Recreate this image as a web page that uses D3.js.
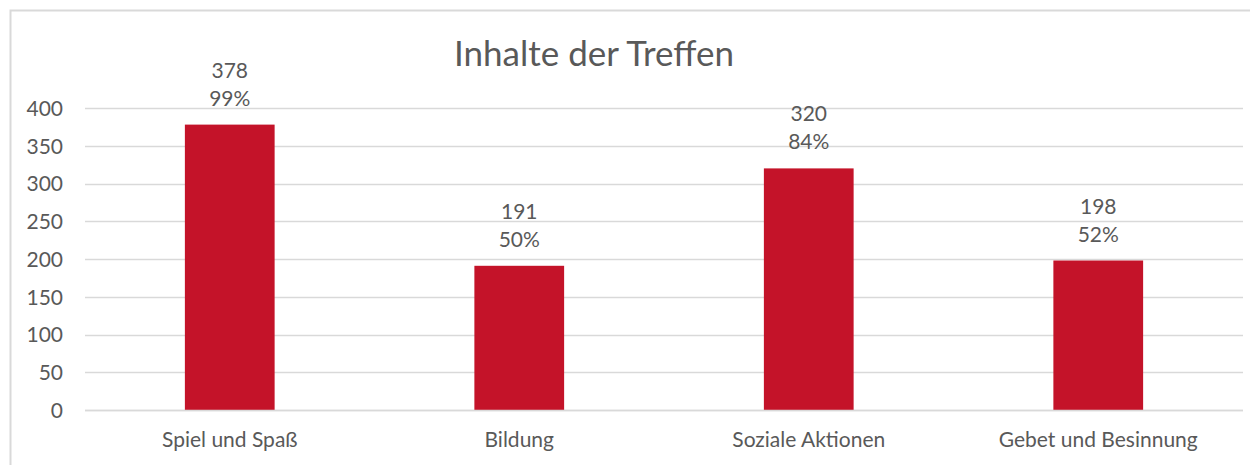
<!DOCTYPE html>
<html>
<head>
<meta charset="utf-8">
<script src="https://cdnjs.cloudflare.com/ajax/libs/d3/7.8.5/d3.min.js"></script>
<style>
	body { margin: 0; background: #fff; }
	svg text { font-family: Lato, "Open Sans", sans-serif; fill: #595959; }
</style>
</head>
<body>
<div id="chart"></div>
<script>

var categories = ["Spiel und Spaß", "Bildung", "Soziale Aktionen", "Gebet und Besinnung"];
var counts     = [378, 191, 320, 198];
var percents   = ["99%", "50%", "84%", "52%"];
var yTicks     = [0, 50, 100, 150, 200, 250, 300, 350, 400];

var width  = 1250,
	height = 465;

var margin = { left: 85, right: 7, top: 108, bottom: 55 };

var fontSize = "21px";

var svg = d3.select("#chart")
	.append("svg")
	.attr("width", width)
	.attr("height", height);

// outer frame (top + left only visible)
svg.append("path")
	.attr("d", "M10.5," + height + "V10.5H" + width)
	.attr("fill", "none")
	.attr("stroke", "#d9d9d9")
	.attr("stroke-width", 2);

var x = d3.scaleBand()
	.domain(categories)
	.range([margin.left, width - margin.right])
	.paddingInner(0.69)
	.paddingOuter(0.345);

var y = d3.scaleLinear()
	.domain([0, 400])
	.range([height - margin.bottom, margin.top]);

// gridlines
svg.append("g")
	.selectAll("line")
	.data(yTicks)
	.enter()
	.append("line")
	.attr("x1", margin.left)
	.attr("x2", width - margin.right)
	.attr("y1", function(d) { return Math.round(y(d)) + 0.5; })
	.attr("y2", function(d) { return Math.round(y(d)) + 0.5; })
	.attr("stroke", "#d9d9d9")
	.attr("stroke-width", 1.5);

// y axis labels
var yAxis = d3.axisLeft(y)
	.tickValues(yTicks)
	.tickSize(0)
	.tickPadding(0);

svg.append("g")
	.attr("transform", "translate(63,0)")
	.call(yAxis)
	.call(function(g) { g.select(".domain").remove(); })
	.selectAll("text")
	.style("font-size", fontSize)
	.attr("dy", "0.35em");

// bars
svg.append("g")
	.selectAll("rect")
	.data(counts)
	.enter()
	.append("rect")
	.attr("x", function(d, i) { return x(categories[i]); })
	.attr("width", x.bandwidth())
	.attr("y", function(d) { return y(d); })
	.attr("height", function(d) { return y(0) - y(d); })
	.attr("fill", "#c41329");

// re-draw zero line over bars
svg.append("line")
	.attr("x1", margin.left)
	.attr("x2", width - margin.right)
	.attr("y1", Math.round(y(0)) + 0.5)
	.attr("y2", Math.round(y(0)) + 0.5)
	.attr("stroke", "#d9d9d9")
	.attr("stroke-width", 1.5);

// data labels
var labels = svg.append("g")
	.selectAll("g")
	.data(counts)
	.enter()
	.append("g")
	.attr("transform", function(d, i) {
		return "translate(" + (x(categories[i]) + x.bandwidth() / 2) + "," + y(d) + ")";
	});

labels.append("text")
	.attr("text-anchor", "middle")
	.attr("y", -47)
	.style("font-size", fontSize)
	.text(function(d) { return d; });

labels.append("text")
	.attr("text-anchor", "middle")
	.attr("y", -19)
	.style("font-size", fontSize)
	.text(function(d, i) { return percents[i]; });

// category labels
var xAxis = d3.axisBottom(x).tickSize(0).tickPadding(0);

svg.append("g")
	.attr("transform", "translate(0," + (height - 18) + ")")
	.call(xAxis)
	.call(function(g) { g.select(".domain").remove(); })
	.selectAll("text")
	.attr("dy", 0)
	.style("font-size", fontSize);

// title
svg.append("text")
	.attr("x", 594)
	.attr("y", 66)
	.attr("text-anchor", "middle")
	.style("font-size", "35px")
	.text("Inhalte der Treffen");

</script>
</body>
</html>
